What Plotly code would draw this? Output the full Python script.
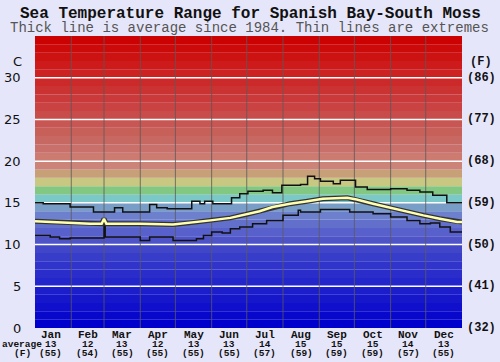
import plotly.graph_objects as go

# ---------------- data ----------------
months = ["Jan", "Feb", "Mar", "Apr", "May", "Jun", "Jul", "Aug", "Sep", "Oct", "Nov", "Dec"]
month_mid_days = [13.5, 45, 74.5, 105, 135.5, 166, 196.5, 227.5, 258, 288.5, 319, 349.5]
month_start_days = [31, 59, 90, 120, 151, 181, 212, 243, 273, 304, 334]
avg_c = [13, 12, 13, 12, 13, 13, 14, 15, 15, 15, 14, 13]
avg_f = [55, 54, 55, 55, 55, 55, 57, 59, 59, 59, 57, 55]

c_ticks = [0, 5, 10, 15, 20, 25, 30]
f_ticks = ["(32)", "(41)", "(50)", "(59)", "(68)", "(77)", "(86)"]

max_days = [0, 7, 30, 50, 68, 75, 98, 104, 113, 134, 141, 145, 152, 168, 175, 182, 195, 203,
            211, 227, 233, 239, 244, 255, 261, 274, 284, 304, 318, 329, 340, 352, 365]
max_vals = [15.0, 14.9, 14.5, 13.9, 14.4, 13.9, 14.8, 14.4, 14.3, 15.2, 14.9, 15.2, 14.9, 15.6,
            16.1, 16.4, 16.5, 16.2, 17.1, 17.2, 18.2, 17.9, 17.6, 17.3, 17.7, 16.9, 16.6, 16.7,
            16.5, 16.3, 15.9, 15.0, 15.1]

avg_days = [0, 13, 30, 47, 57, 59, 61, 90, 118, 132, 150, 167, 180, 192, 203, 218, 233, 246,
            267, 275, 289, 304, 318, 332, 346, 361, 365]
avg_vals = [12.8, 12.7, 12.6, 12.5, 12.5, 13.1, 12.5, 12.5, 12.4, 12.6, 12.9, 13.2, 13.6, 14.0,
            14.5, 14.9, 15.2, 15.5, 15.6, 15.4, 14.9, 14.4, 13.9, 13.5, 13.1, 12.7, 12.7]

min_days = [0, 13, 21, 30, 59, 60, 90, 98, 118, 138, 144, 151, 160, 167, 175, 186, 198, 212,
            225, 227, 244, 269, 289, 304, 318, 329, 338, 346, 355, 365]
min_vals = [11.1, 10.9, 10.7, 10.8, 12.8, 10.9, 10.5, 10.9, 10.5, 10.7, 11.1, 11.5, 11.4, 11.9,
            12.1, 12.5, 12.9, 13.5, 14.1, 13.9, 14.2, 13.9, 13.7, 13.3, 12.9, 12.5, 12.6, 12.1,
            11.5, 11.6]

# ---------------- styling ----------------
band_colors = [
    (0, 0, 204), (8, 8, 204), (15, 15, 204), (22, 22, 203), (28, 30, 203),
    (35, 38, 202), (42, 45, 202), (48, 52, 202), (55, 60, 201), (65, 70, 201),
    (78, 84, 200), (88, 97, 203), (98, 112, 204), (108, 128, 205), (120, 158, 200),
    (122, 200, 200), (130, 200, 130), (200, 200, 130), (200, 160, 120), (205, 132, 120),
    (205, 122, 112), (202, 112, 106), (200, 104, 98), (200, 96, 90), (200, 86, 82),
    (200, 76, 74), (202, 66, 66), (202, 58, 58), (203, 50, 50), (204, 42, 42),
    (205, 34, 34), (205, 26, 26), (205, 18, 18), (205, 10, 10), (204, 2, 2),
]

W, H = 500, 362
L, R, T, B = 35, 462, 36, 328
YMAX = 35

def py(p):
    return (B - p) / (B - T)

def px(p):
    return (p - L) / (R - L)

fig = go.Figure()

shapes = []
for i, c in enumerate(band_colors):
    shapes.append(dict(type="rect", xref="x", yref="y", x0=0, x1=365, y0=i, y1=min(i + 1, YMAX),
                       fillcolor="rgb(%d,%d,%d)" % c, line=dict(width=0), layer="below"))
for v in c_ticks[1:]:
    shapes.append(dict(type="line", xref="x", yref="y", x0=0, x1=365, y0=v, y1=v,
                       line=dict(color="white", width=1.5), layer="below"))
for d in month_start_days:
    shapes.append(dict(type="line", xref="x", yref="y", x0=d, x1=d, y0=0, y1=YMAX,
                       line=dict(color="rgba(90,90,90,0.8)", width=1), layer="below"))

fig.add_trace(go.Scatter(x=max_days, y=max_vals, mode="lines", line=dict(color="#111", width=1.5, shape="hv"),
                         hoverinfo="skip"))
fig.add_trace(go.Scatter(x=min_days, y=min_vals, mode="lines", line=dict(color="#111", width=1.5, shape="hv"),
                         hoverinfo="skip"))
fig.add_trace(go.Scatter(x=avg_days, y=avg_vals, mode="lines", line=dict(color="#333", width=5),
                         hoverinfo="skip"))
fig.add_trace(go.Scatter(x=avg_days, y=avg_vals, mode="lines", line=dict(color="#ffffb0", width=2.5),
                         hoverinfo="skip"))

ann = []
mono = "Liberation Mono, Courier New, monospace"
ann.append(dict(text="<b>Sea Temperature Range for Spanish Bay-South Moss</b>", xref="paper", yref="paper",
                x=px(250), y=py(14), xanchor="center", yanchor="middle", showarrow=False,
                font=dict(family=mono, size=16, color="#111")))
ann.append(dict(text="Thick line is average since 1984. Thin lines are extremes", xref="paper", yref="paper",
                x=px(249), y=py(28), xanchor="center", yanchor="middle", showarrow=False,
                font=dict(family=mono, size=14, color="#555")))
for v in c_ticks:
    ann.append(dict(text=str(v), xref="paper", yref="y", x=px(23), y=v, xanchor="right", yanchor="middle",
                    showarrow=False, font=dict(family="DejaVu Sans", size=13, color="#111")))
for v, f in zip(c_ticks, f_ticks):
    ann.append(dict(text="<b>%s</b>" % f, xref="paper", yref="y", x=px(465), y=v, xanchor="left",
                    yanchor="middle", showarrow=False, font=dict(family=mono, size=12, color="#111")))
ann.append(dict(text="C", xref="paper", yref="paper", x=px(17), y=py(61), xanchor="center", yanchor="middle",
                showarrow=False, font=dict(family="DejaVu Sans", size=13, color="#111")))
ann.append(dict(text="<b>(F)</b>", xref="paper", yref="paper", x=px(481), y=py(62), xanchor="center",
                yanchor="middle", showarrow=False, font=dict(family=mono, size=12, color="#111")))
for m, d, c, f in zip(months, month_mid_days, avg_c, avg_f):
    ann.append(dict(text="<b>%s</b>" % m, xref="x", yref="paper", x=d, y=py(335), xanchor="center",
                    yanchor="middle", showarrow=False, font=dict(family=mono, size=11, color="#111")))
    ann.append(dict(text="<b>%d</b>" % c, xref="x", yref="paper", x=d, y=py(344), xanchor="center",
                    yanchor="middle", showarrow=False, font=dict(family=mono, size=9.5, color="#111")))
    ann.append(dict(text="<b>(%d)</b>" % f, xref="x", yref="paper", x=d, y=py(353), xanchor="center",
                    yanchor="middle", showarrow=False, font=dict(family=mono, size=9.5, color="#111")))
ann.append(dict(text="<b>average</b>", xref="paper", yref="paper", x=px(22), y=py(344), xanchor="center",
                yanchor="middle", showarrow=False, font=dict(family=mono, size=9.5, color="#111")))
ann.append(dict(text="<b>(F)</b>", xref="paper", yref="paper", x=px(22), y=py(353), xanchor="center",
                yanchor="middle", showarrow=False, font=dict(family=mono, size=9.5, color="#111")))

fig.update_layout(
    width=W, height=H, autosize=False,
    margin=dict(l=L, r=W - R, t=T, b=H - B, pad=0),
    paper_bgcolor="#e6e6fa", plot_bgcolor="#e6e6fa",
    showlegend=False,
    shapes=shapes, annotations=ann,
    xaxis=dict(range=[0, 365], showgrid=False, zeroline=False, showticklabels=False, ticks="", fixedrange=True),
    yaxis=dict(range=[0, YMAX], showgrid=False, zeroline=False, showticklabels=False, ticks="", fixedrange=True),
)

fig.write_html("out.html", config={"displayModeBar": False},
               post_script="document.body.style.margin='0';document.body.style.overflow='hidden';"
                           "document.body.style.background='#e6e6fa';")
